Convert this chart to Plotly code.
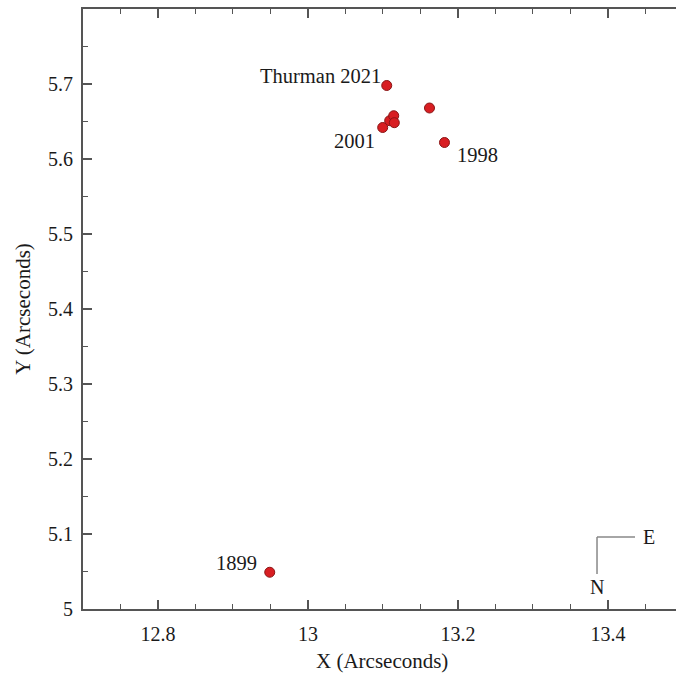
import plotly.graph_objects as go

# Data (arcseconds)
x_vals = [12.949, 13.105, 13.162, 13.182, 13.0996, 13.1089, 13.1143, 13.1151]
y_vals = [5.049, 5.698, 5.668, 5.622, 5.642, 5.6511, 5.6577, 5.6484]

# Labelled epochs: (text, index into data, xanchor, xshift, yshift)
labels = ["1899", "Thurman 2021", "1998", "2001"]
label_idx = [0, 1, 3, 4]
label_anchor = ["right", "right", "left", "right"]
label_dx = [-11, -4, 11, -6]
label_dy = [9, 10, -12, -13]

x_ticks = [12.8, 13.0, 13.2, 13.4]
x_ticktext = ["12.8", "13", "13.2", "13.4"]
y_ticks = [5.0, 5.1, 5.2, 5.3, 5.4, 5.5, 5.6, 5.7]
y_ticktext = ["5", "5.1", "5.2", "5.3", "5.4", "5.5", "5.6", "5.7"]

FONT = "Liberation Serif"
TXT = "#1a1a1a"
AX = "#555555"

fig = go.Figure()
fig.add_trace(go.Scatter(
    x=x_vals, y=y_vals, mode="markers",
    marker=dict(size=10, color="#d81e22", line=dict(color="#8a1515", width=1)),
    showlegend=False, hoverinfo="skip"))

annotations = []
for t, i, xa, dx, dy in zip(labels, label_idx, label_anchor, label_dx, label_dy):
    annotations.append(dict(x=x_vals[i], y=y_vals[i], xref="x", yref="y", text=t,
                            showarrow=False, xanchor=xa, yanchor="middle",
                            xshift=dx, yshift=dy, font=dict(family=FONT, size=20.5, color=TXT)))

# Axis title X
annotations.append(dict(x=0.504, y=-0.087, xref="paper", yref="paper", text="X (Arcseconds)",
                        showarrow=False, xanchor="center", yanchor="middle",
                        font=dict(family=FONT, size=21, color=TXT)))

# Compass (N / E)
annotations.append(dict(x=0.9545, y=0.12, xref="paper", yref="paper", text="E", showarrow=False,
                        xanchor="center", yanchor="middle", font=dict(family=FONT, size=20, color=TXT)))
annotations.append(dict(x=0.8668, y=0.0367, xref="paper", yref="paper", text="N", showarrow=False,
                        xanchor="center", yanchor="middle", font=dict(family=FONT, size=20, color=TXT)))
shapes = [
    dict(type="line", xref="paper", yref="paper", x0=0.8668, x1=0.8668, y0=0.12, y1=0.0583,
         line=dict(color="#888888", width=1.5)),
    dict(type="line", xref="paper", yref="paper", x0=0.8668, x1=0.9309, y0=0.12, y1=0.12,
         line=dict(color="#888888", width=1.5)),
]

fig.update_layout(
    width=676, height=676,
    margin=dict(l=83, r=0, t=9, b=67),
    paper_bgcolor="white", plot_bgcolor="white",
    annotations=annotations, shapes=shapes,
    font=dict(family=FONT, color=TXT),
    xaxis=dict(range=[12.7, 13.4907], tickvals=x_ticks, ticktext=x_ticktext,
               ticks="inside", ticklen=9, tickwidth=1.5, tickcolor=AX,
               showline=True, linecolor=AX, linewidth=2, mirror="ticks",
               showgrid=False, zeroline=False,
               tickfont=dict(family=FONT, size=20, color=TXT), ticklabelstandoff=6,
               minor=dict(tick0=12.7, dtick=0.05, ticks="inside", ticklen=5, tickwidth=1.2,
                          tickcolor=AX, showgrid=False)),
    yaxis=dict(range=[5.0, 5.8], tickvals=y_ticks, ticktext=y_ticktext,
               ticks="inside", ticklen=9, tickwidth=1.5, tickcolor=AX,
               showline=True, linecolor=AX, linewidth=2, mirror=False,
               showgrid=False, zeroline=False,
               tickfont=dict(family=FONT, size=20, color=TXT), ticklabelstandoff=4,
               title=dict(text="Y (Arcseconds)", font=dict(family=FONT, size=21, color=TXT), standoff=12),
               minor=dict(tick0=5.0, dtick=0.05, ticks="inside", ticklen=5, tickwidth=1.2,
                          tickcolor=AX, showgrid=False)),
)

fig.write_html("out.html")
